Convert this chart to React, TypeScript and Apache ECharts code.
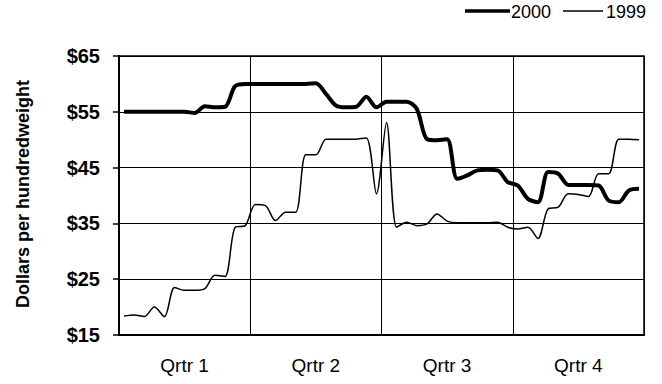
import React, { useEffect, useRef } from "react";
import * as echarts from "echarts";

const quarters = ["Qrtr 1", "Qrtr 2", "Qrtr 3", "Qrtr 4"];
const yTicks = [15, 25, 35, 45, 55, 65];
const seriesNames = ["2000", "1999"];

const prices2000 = [
  55.0, 55.0, 55.0, 55.0, 55.0, 55.0, 55.0, 54.8, 56.0, 55.8,
  55.9, 59.6, 60.0, 60.0, 60.0, 60.0, 60.0, 60.0, 60.0, 60.1,
  58.2, 56.1, 55.8, 55.9, 57.7, 55.8, 56.8, 56.8, 56.8, 55.5,
  50.1, 49.9, 50.1, 43.0, 43.6, 44.5, 44.6, 44.5, 42.4, 41.8,
  39.4, 38.8, 44.2, 43.9, 41.9, 41.9, 41.9, 41.8, 39.1, 38.8,
  40.9, 41.2,
];

const prices1999 = [
  18.4, 18.6, 18.3, 20.0, 18.3, 23.5, 23.0, 23.0, 23.3, 25.7,
  25.5, 34.3, 34.6, 38.4, 38.2, 35.5, 37.0, 37.0, 47.3, 47.3,
  50.1, 50.1, 50.1, 50.1, 50.3, 40.3, 53.1, 34.3, 35.2, 34.6,
  34.9, 36.7, 35.4, 35.1, 35.1, 35.1, 35.1, 35.2, 34.3, 34.0,
  34.3, 32.3, 37.6, 37.9, 40.3, 40.2, 39.8, 43.9, 43.9, 50.1,
  50.1, 50.0,
];

const FONT = "'Liberation Sans', Arial, sans-serif";

export default function App() {
  const ref = useRef<HTMLDivElement>(null);
  useEffect(() => {
    if (!ref.current) return;
    const chart = echarts.init(ref.current, null, { renderer: "svg" });
    const toPts = (arr: number[]) => arr.map((v, i) => [i + 0.5, v]);
    chart.setOption({
      animation: false,
      backgroundColor: "#fff",
      textStyle: { fontFamily: FONT, color: "#000" },
      grid: {
        left: 119,
        right: 18,
        top: 56,
        bottom: 49,
        show: true,
        borderColor: "#000",
        borderWidth: 1.5,
      },
      xAxis: [
        {
          type: "value",
          min: 0,
          max: 52,
          interval: 13,
          position: "bottom",
          axisLine: { show: true, lineStyle: { color: "#000", width: 2 } },
          axisTick: { show: false },
          axisLabel: { show: false },
          splitLine: { show: true, lineStyle: { color: "#000", width: 1 } },
        },
        {
          type: "category",
          data: quarters,
          boundaryGap: true,
          position: "bottom",
          axisLine: { show: false },
          axisTick: { show: false },
          splitLine: { show: false },
          axisLabel: {
            margin: 21,
            fontSize: 19,
            fontFamily: FONT,
            color: "#000",
          },
        },
      ],
      yAxis: {
        type: "value",
        min: yTicks[0],
        max: yTicks[yTicks.length - 1],
        interval: 10,
        axisLine: { show: true, lineStyle: { color: "#000", width: 2 } },
        axisTick: { show: true, length: 6, inside: false, lineStyle: { color: "#000", width: 1.5 } },
        splitLine: { show: true, lineStyle: { color: "#000", width: 1 } },
        axisLabel: {
          margin: 19,
          fontSize: 20,
          fontWeight: "bold",
          fontFamily: FONT,
          color: "#000",
          formatter: (v: number) => "$" + v,
        },
      },
      graphic: [
        {
          type: "text",
          x: 23,
          y: 194,
          rotation: Math.PI / 2,
          style: {
            text: "Dollars per hundredweight",
            fontSize: 18,
            fontWeight: "bold",
            fontFamily: FONT,
            fill: "#000",
            align: "center",
            verticalAlign: "middle",
          },
        },
        {
          type: "line",
          shape: { x1: 465, y1: 11, x2: 510, y2: 11 },
          style: { stroke: "#000", lineWidth: 3.5 },
        },
        {
          type: "text",
          x: 511,
          y: 12,
          style: {
            text: seriesNames[0],
            fontSize: 18,
            fontFamily: FONT,
            fill: "#000",
            align: "left",
            verticalAlign: "middle",
          },
        },
        {
          type: "line",
          shape: { x1: 563, y1: 11, x2: 603, y2: 11 },
          style: { stroke: "#000", lineWidth: 1.5 },
        },
        {
          type: "text",
          x: 606,
          y: 12,
          style: {
            text: seriesNames[1],
            fontSize: 18,
            fontFamily: FONT,
            fill: "#000",
            align: "left",
            verticalAlign: "middle",
          },
        },
      ],
      series: [
        {
          name: seriesNames[0],
          type: "line",
          xAxisIndex: 0,
          data: toPts(prices2000),
          symbol: "none",
          smooth: 0.3,
          lineStyle: { color: "#000", width: 4 },
          itemStyle: { color: "#000" },
          z: 3,
        },
        {
          name: seriesNames[1],
          type: "line",
          xAxisIndex: 0,
          data: toPts(prices1999),
          symbol: "none",
          smooth: 0.3,
          lineStyle: { color: "#000", width: 1.5 },
          itemStyle: { color: "#000" },
          z: 2,
        },
      ],
    });
    return () => chart.dispose();
  }, []);
  return (
    <div
      ref={ref}
      style={{ position: "absolute", left: 0, top: 0, width: 662, height: 384 }}
    />
  );
}
